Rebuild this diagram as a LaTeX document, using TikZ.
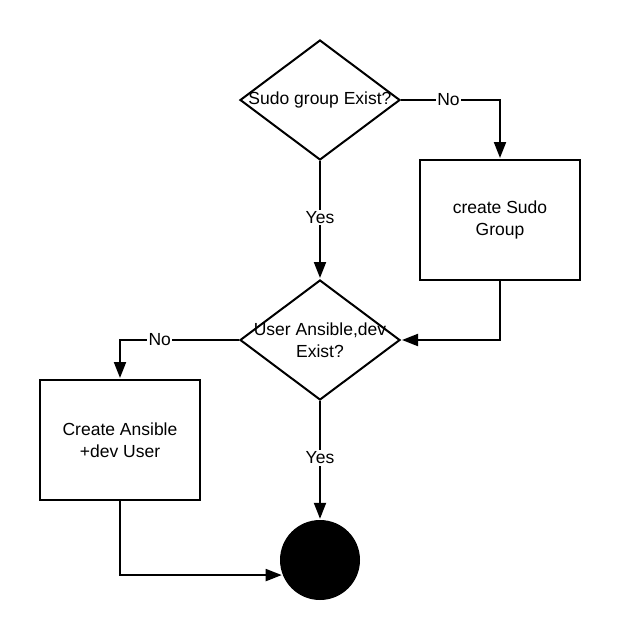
\documentclass[tikz,border=0pt]{standalone}
\usepackage{fontspec}
\setmainfont{Liberation Sans}
\usetikzlibrary{shapes.geometric,arrows.meta}
\begin{document}
\begin{tikzpicture}[x=1pt,y=-1pt,
  txt/.style={font=\fontsize{17.5}{22}\selectfont, align=center, inner sep=0},
  dia/.style={diamond, draw, line width=2pt, minimum width=160pt, minimum height=120pt, inner sep=0},
  boxnode/.style={rectangle, draw, line width=2pt, minimum width=160pt, minimum height=120pt, inner sep=0, font=\fontsize{17.5}{22}\selectfont, align=center},
  lbl/.style={fill=white, inner sep=1.5pt, font=\fontsize{17.5}{22}\selectfont},
  arr/.style={line width=2pt, -{Triangle[length=16pt,width=12pt]}, shorten >=1pt}
]
\useasboundingbox (0,0) rectangle (620,640);
\node[dia] (d1) at (320,100) {};
\node[txt] (d1t) at (320,100) {Sudo group Exist?};
\node[boxnode] (b1) at (500,220) {create Sudo\\Group};
\node[dia] (d2) at (320,340) {};
\node[txt] (d2t) at (320,340) {User Ansible,dev\\Exist?};
\node[boxnode] (b2) at (120,440) {Create Ansible\\+dev User};
\node[circle, fill=black, minimum size=80pt, inner sep=0] (c) at (320,560) {};
\draw[arr] (d1.east) -| node[lbl, pos=0.24] {No} (b1.north);
\draw[arr] (d1.south) -- node[lbl, pos=0.48] {Yes} (d2.north);
\draw[arr] (b1.south) |- (d2.east);
\draw[arr] (d2.west) -| node[lbl, pos=0.333] {No} (b2.north);
\draw[arr] (d2.south) -- node[lbl, pos=0.48] {Yes} (c.north);
\draw[arr] (b2.south) |- (c.202);
\end{tikzpicture}
\end{document}
